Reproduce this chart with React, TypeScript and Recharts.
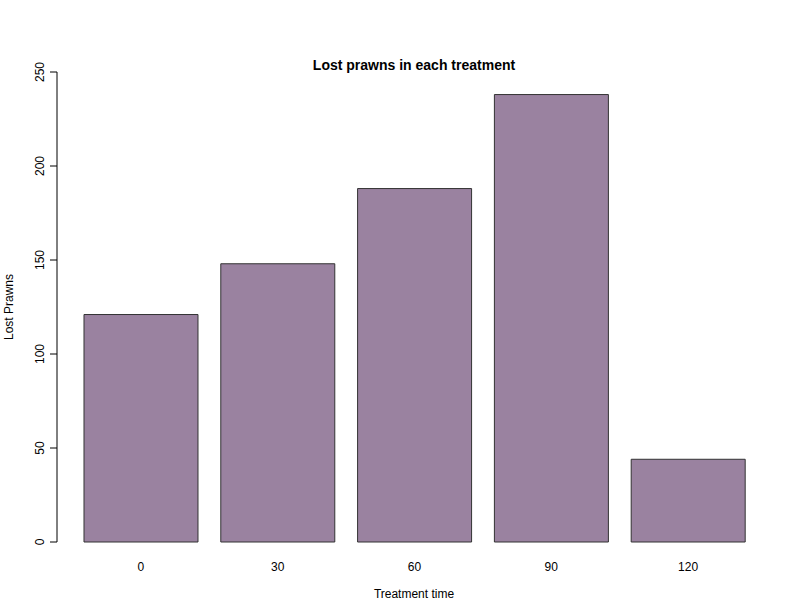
import { Bar, BarChart, XAxis, YAxis } from "recharts";

const treatments = ["0", "30", "60", "90", "120"];
const lostPrawns = [121, 148, 188, 238, 44];
const yTicks = [0, 50, 100, 150, 200, 250];

const data = treatments.map((t, i) => ({ name: t, lost: lostPrawns[i] }));

const font = "'Liberation Sans', Arial, sans-serif";

function YTick(props: any) {
  const { x, y, payload } = props;
  return (
    <text
      x={x - 4}
      y={y}
      transform={`rotate(-90 ${x - 4} ${y})`}
      textAnchor="middle"
      fontSize={12}
      fontFamily={font}
      fill="#000"
    >
      {payload.value}
    </text>
  );
}

export default function App() {
  return (
    <div style={{ position: "absolute", left: 0, top: 0, width: 800, height: 600, background: "#fff" }}>
      <BarChart
        width={800}
        height={600}
        data={data}
        margin={{ top: 72, right: 28, bottom: 28, left: 27 }}
        barCategoryGap="8.4%"
      >
        <text x={414} y={70} textAnchor="middle" fontSize={14} fontWeight="bold" fontFamily={font}>
          Lost prawns in each treatment
        </text>
        <text x={414} y={598} textAnchor="middle" fontSize={12} fontFamily={font}>
          Treatment time
        </text>
        <text
          x={13}
          y={307}
          transform="rotate(-90 13 307)"
          textAnchor="middle"
          fontSize={12}
          fontFamily={font}
        >
          Lost Prawns
        </text>
        <XAxis
          dataKey="name"
          height={30}
          axisLine={false}
          tickLine={false}
          padding={{ left: 15.5, right: 15.5 }}
          tick={{ fontSize: 12, fontFamily: font, fill: "#000" }}
          tickMargin={14}
        />
        <YAxis
          width={30}
          domain={[0, 250]}
          ticks={yTicks}
          interval={0}
          tickSize={7}
          stroke="#000"
          tick={<YTick />}
        />
        <Bar dataKey="lost" fill="#9a82a0" stroke="#333" strokeWidth={1} isAnimationActive={false} />
      </BarChart>
    </div>
  );
}
